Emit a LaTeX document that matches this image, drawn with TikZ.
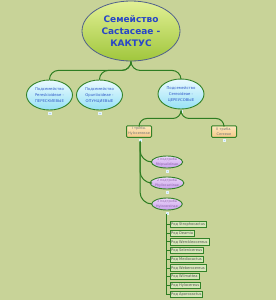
\documentclass[tikz,border=0pt]{standalone}
\usepackage{fontspec}
\setmainfont{DejaVu Sans}
\usetikzlibrary{shapes.geometric}
\definecolor{bg}{RGB}{200,211,152}
\definecolor{conn}{RGB}{46,125,34}
\definecolor{famtop}{RGB}{226,240,150}
\definecolor{fambot}{RGB}{160,198,60}
\definecolor{famborder}{RGB}{80,96,140}
\definecolor{famtext}{RGB}{40,70,200}
\definecolor{subtop}{RGB}{235,250,255}
\definecolor{subbot}{RGB}{150,225,245}
\definecolor{subtext}{RGB}{50,90,200}
\definecolor{gborder}{RGB}{50,130,40}
\definecolor{tribtop}{RGB}{253,232,190}
\definecolor{tribbot}{RGB}{245,200,135}
\definecolor{tribtext}{RGB}{120,120,120}
\definecolor{sttop}{RGB}{236,215,250}
\definecolor{stbot}{RGB}{200,160,235}
\definecolor{sttext}{RGB}{140,100,170}
\definecolor{genfill}{RGB}{215,232,185}
\definecolor{gentext}{RGB}{80,80,80}
\definecolor{mark}{RGB}{170,215,240}
\begin{document}
\begin{tikzpicture}[x=1pt,y=-1pt,
  famell/.style={ellipse, draw=famborder, line width=0.8pt, top color=famtop, bottom color=fambot,
    minimum width=98pt, minimum height=60pt, inner sep=0pt, align=center, text=famtext,
    font=\fontsize{9}{12}\selectfont\bfseries},
  subell/.style={ellipse, draw=gborder, line width=0.9pt, top color=subtop, bottom color=subbot,
    minimum width=46pt, minimum height=30pt, inner sep=0pt, align=center, text=subtext,
    font=\fontsize{3.8}{6}\selectfont},
  tribbox/.style={rectangle, rounded corners=1pt, draw=gborder, line width=1pt, top color=tribtop,
    bottom color=tribbot, minimum width=25pt, minimum height=11.5pt, inner sep=0pt, align=center,
    text=tribtext, font=\fontsize{3.5}{5}\selectfont},
  stell/.style={ellipse, draw=gborder, line width=0.9pt, top color=sttop, bottom color=stbot,
    minimum width=30pt, minimum height=12pt, inner sep=0pt, align=center, text=sttext,
    font=\fontsize{3.3}{4.6}\selectfont},
  genbox/.style={rectangle, draw=gborder, line width=0.8pt, fill=genfill, anchor=west,
    minimum height=6.3pt, inner xsep=1.3pt, inner ysep=0pt, text=gentext,
    font=\fontsize{3.6}{4}\selectfont},
  marker/.style={rectangle, fill=mark, draw=white!70!mark, line width=0.3pt, minimum size=2.6pt, inner sep=0pt},
  link/.style={draw=conn, line width=1pt},
]
\fill[bg] (0,0) rectangle (276,300);
\useasboundingbox (0,0) rectangle (276,300);

\node[famell] (fam) at (131,31) {Семейство\\Cactaceae -\\КАКТУС};

\node[subell] (s1) at (49.5,95) {Подсемейство\\Pereskioideae -\\ПЕРЕСКИЕВЫЕ};
\node[subell] (s2) at (99.5,95) {Подсемейство\\Opuntioideae -\\ОПУНЦИЕВЫЕ};
\node[subell] (s3) at (181,94) {Подсемейство\\Cereoideae -\\ЦЕРЕУСОВЫЕ};
\node[marker] (m1) at (49.5,113) {};
\node[marker] (m2) at (99.5,113) {};
\node[marker] (m3) at (181,111) {};

\draw[link, rounded corners=9pt] (fam.south) -- ++(0,9) -| (s1.north);
\draw[link, rounded corners=9pt] (fam.south) -- ++(0,9) -| (s2.north);
\draw[link, rounded corners=9pt] (fam.south) -- ++(0,9) -| (s3.north);

\node[tribbox] (t1) at (139,131.5) {I триба.\\Hylocereeae};
\node[tribbox] (t2) at (224,131.5) {II триба.\\Cereeae};
\node[marker] (mt1) at (140,140) {};
\node[marker] (mt2) at (224,140) {};

\draw[link, rounded corners=8pt] (m3.south) -- ++(0,6) -| (t1.north);
\draw[link, rounded corners=8pt] (m3.south) -- ++(0,6) -| (t2.north);

\node[stell] (st1) at (167,162) {1 подтриба\\Rhipsalidinae};
\node[stell] (st2) at (167,183) {2 подтриба\\Phyllocactinae};
\node[stell] (st3) at (167,204) {3 подтриба\\Hylocereinae};
\node[marker] (ms1) at (167,171) {};
\node[marker] (ms2) at (167,192) {};
\node[marker] (ms3) at (167,213) {};

\draw[link, rounded corners=12pt] (mt1.south) |- (st1.west);
\draw[link, rounded corners=12pt] (mt1.south) |- (st2.west);
\draw[link, rounded corners=12pt] (mt1.south) |- (st3.west);

\node[genbox] (g1) at (169.5,224.5) {Род Strophocactus};
\node[genbox] (g2) at (169.5,233.2) {Род Deamia};
\node[genbox] (g3) at (169.5,241.9) {Род Werckleocereus};
\node[genbox] (g4) at (169.5,250.6) {Род Selenicereus};
\node[genbox] (g5) at (169.5,259.3) {Род Mediocactus};
\node[genbox] (g6) at (169.5,268) {Род Weberocereus};
\node[genbox] (g7) at (169.5,276.7) {Род Wilmattea};
\node[genbox] (g8) at (169.5,285.4) {Род Hylocereus};
\node[genbox] (g9) at (169.5,294.1) {Род Aporocactus};

\coordinate (gv) at (166,216);
\draw[link, line width=0.9pt] (ms3.south) -- (ms3.south -| gv) -- (gv);
\foreach \i in {1,...,9} {
  \draw[link, line width=0.9pt] (gv) |- (g\i.west);
}
\end{tikzpicture}
\end{document}
